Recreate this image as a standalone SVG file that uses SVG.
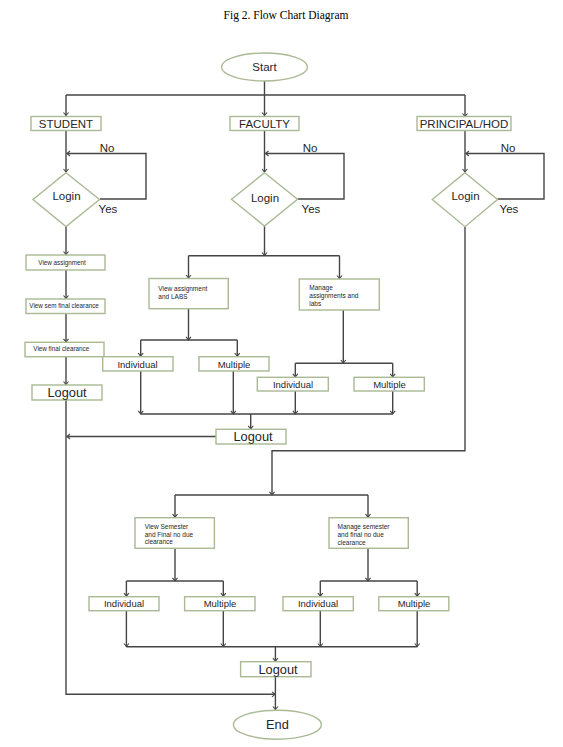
<svg xmlns="http://www.w3.org/2000/svg" width="563" height="747" viewBox="0 0 563 747">
<style>
.bx{fill:#fff;stroke:#a9ba94;stroke-width:1.4}
.ln{fill:none;stroke:#454545;stroke-width:1.4}
.ar{marker-end:url(#ah)}
.t{font-family:"Liberation Sans",Arial,sans-serif;fill:#262626}
.lg{font-size:11.5px}
.big{font-size:12.8px}
.md{font-size:9.5px}
.sm{font-size:6.3px}
.s7{font-size:6.5px}
.title{font-family:"Liberation Serif","Times New Roman",serif;font-size:11.5px;fill:#000}
</style>
<defs>
<marker id="ah" markerWidth="8" markerHeight="8" refX="4" refY="4" orient="auto" markerUnits="userSpaceOnUse">
<polyline points="1,1.5 4,4 1,6.5" fill="none" stroke="#454545" stroke-width="1.1"/>
</marker>
</defs>
<rect width="563" height="747" fill="#fff"/>
<text class="title" x="286" y="19" text-anchor="middle">Fig 2. Flow Chart Diagram</text>

<g id="connectors">
<path class="ln" d="M264.5,81 V95 M66,95 H465"/>
<path class="ln ar" d="M66,95 V115.5"/>
<path class="ln ar" d="M264.5,95 V115.5"/>
<path class="ln ar" d="M465,95 V116.5"/>
<path class="ln ar" d="M66,130.5 V172"/>
<path class="ln ar" d="M264.5,130.5 V172"/>
<path class="ln ar" d="M465,130.5 V172"/>
<path class="ln ar" d="M100,199 H146 V153.5 H67"/>
<path class="ln ar" d="M297.5,199 H344 V153.5 H265.5"/>
<path class="ln ar" d="M497.5,199 H544 V153.5 H466"/>
<path class="ln ar" d="M66,226.5 V254.5"/>
<path class="ln ar" d="M66,270 V298.5"/>
<path class="ln ar" d="M66,313.5 V341.8"/>
<path class="ln ar" d="M66,356.7 V384.5"/>
<path class="ln ar" d="M66,400 V694.3 H275"/>
<path class="ln ar" d="M264.5,226 V255.5"/>
<path class="ln" d="M188.5,255.7 H339.5"/>
<path class="ln ar" d="M188.5,255.7 V278"/>
<path class="ln ar" d="M339.5,255.7 V278.5"/>
<path class="ln ar" d="M188.5,308.7 V339.8"/>
<path class="ln" d="M140.7,340 H237.3"/>
<path class="ln ar" d="M140.7,340 V356.2"/>
<path class="ln ar" d="M237.3,340 V356.2"/>
<path class="ln ar" d="M343.3,310 V363"/>
<path class="ln" d="M295.3,363.3 H392.7"/>
<path class="ln ar" d="M295.3,363.3 V376.8"/>
<path class="ln ar" d="M392.7,363.3 V376.8"/>
<path class="ln ar" d="M140.7,371 V413.8"/>
<path class="ln ar" d="M233.3,371 V413.8"/>
<path class="ln ar" d="M295.3,391 V413.8"/>
<path class="ln ar" d="M392.7,391 V413.8"/>
<path class="ln" d="M140.7,414 H392.7"/>
<path class="ln ar" d="M250.7,414 V428.8"/>
<path class="ln ar" d="M216,436.5 H67"/>
<path class="ln ar" d="M465,226.7 V450.7 H272 V494.8"/>
<path class="ln" d="M175,495 H368"/>
<path class="ln ar" d="M175,495 V517.2"/>
<path class="ln ar" d="M368,495 V517.2"/>
<path class="ln ar" d="M175,548.3 V580.8"/>
<path class="ln ar" d="M368,548.3 V580.8"/>
<path class="ln" d="M126.4,581 H223.3 M320.3,581 H417.2"/>
<path class="ln ar" d="M126.4,581 V596.2"/>
<path class="ln ar" d="M223.3,581 V596.2"/>
<path class="ln ar" d="M320.3,581 V596.2"/>
<path class="ln ar" d="M417.2,581 V596.2"/>
<path class="ln ar" d="M126.4,610.7 V646.5"/>
<path class="ln ar" d="M223.3,610.7 V646.5"/>
<path class="ln ar" d="M320.3,610.7 V646.5"/>
<path class="ln ar" d="M417.2,610.7 V646.5"/>
<path class="ln" d="M126.4,646.7 H417.2"/>
<path class="ln ar" d="M275.4,646.7 V661.2"/>
<path class="ln ar" d="M275.4,676.7 V709.5"/>
</g>

<g id="start">
<ellipse class="bx" cx="264.5" cy="67" rx="43" ry="14"/>
<text class="t lg" x="264.5" y="71" text-anchor="middle">Start</text>
</g>
<g id="student">
<rect class="bx" x="31" y="116.5" width="70" height="14"/>
<text class="t lg" x="66" y="127.5" text-anchor="middle">STUDENT</text>
</g>
<g id="faculty">
<rect class="bx" x="230" y="116.5" width="69" height="14"/>
<text class="t lg" x="264.5" y="127.5" text-anchor="middle">FACULTY</text>
</g>
<g id="principal">
<rect class="bx" x="417" y="116.5" width="94" height="14"/>
<text class="t lg" x="464" y="127.5" text-anchor="middle">PRINCIPAL/HOD</text>
</g>

<g id="login-student">
<polygon class="bx" points="66,172.7 99.5,199.5 66,226.5 33,199.5"/>
<text class="t lg" x="66.5" y="199.5" text-anchor="middle">Login</text>
<text class="t lg" x="107" y="151.5" text-anchor="middle">No</text>
<text class="t lg" x="108" y="213" text-anchor="middle">Yes</text>
</g>
<g id="login-faculty">
<polygon class="bx" points="264.5,172.7 297.5,199.3 264.5,226 231.5,199.3"/>
<text class="t lg" x="265" y="202" text-anchor="middle">Login</text>
<text class="t lg" x="310" y="152" text-anchor="middle">No</text>
<text class="t lg" x="311" y="213" text-anchor="middle">Yes</text>
</g>
<g id="login-principal">
<polygon class="bx" points="465,172.7 497.5,199.5 465,226.7 432.3,199.5"/>
<text class="t lg" x="465.5" y="200" text-anchor="middle">Login</text>
<text class="t lg" x="508" y="152" text-anchor="middle">No</text>
<text class="t lg" x="509" y="213" text-anchor="middle">Yes</text>
</g>

<g id="view-assignment">
<rect class="bx" x="26" y="255" width="79" height="15"/>
<text class="t sm" x="38.3" y="265.3">View assignment</text>
</g>
<g id="view-sem-final">
<rect class="bx" x="26" y="299" width="79" height="14.5"/>
<text class="t sm" x="29.3" y="308.3">View sem final clearance</text>
</g>
<g id="view-final">
<rect class="bx" x="25" y="342.3" width="79" height="14.4"/>
<text class="t sm" x="33.3" y="351">View final clearance</text>
</g>
<g id="logout-student">
<rect class="bx" x="32" y="385" width="70" height="15"/>
<text class="t big" x="67" y="397" text-anchor="middle">Logout</text>
</g>

<g id="view-assignment-labs">
<rect class="bx" x="149" y="278.5" width="79.3" height="30.2"/>
<text class="t s7" x="158.3" y="291">View assignment</text>
<text class="t s7" x="158.3" y="298.8">and LABS</text>
</g>
<g id="manage-assignments">
<rect class="bx" x="299.3" y="279" width="80" height="31"/>
<text class="t s7" x="309.3" y="290">Manage</text>
<text class="t s7" x="309.3" y="297.8">assignments and</text>
<text class="t s7" x="309.3" y="305.6">labs</text>
</g>
<g id="individual-1">
<rect class="bx" x="102.7" y="356.7" width="70.3" height="14.3"/>
<text class="t md" x="137.5" y="367.5" text-anchor="middle">Individual</text>
</g>
<g id="multiple-1">
<rect class="bx" x="199" y="356.7" width="70" height="14.3"/>
<text class="t md" x="234" y="367.5" text-anchor="middle">Multiple</text>
</g>
<g id="individual-2">
<rect class="bx" x="257.3" y="377.3" width="71" height="13.7"/>
<text class="t md" x="293" y="387.8" text-anchor="middle">Individual</text>
</g>
<g id="multiple-2">
<rect class="bx" x="354" y="377.3" width="70.3" height="13.7"/>
<text class="t md" x="389.5" y="387.8" text-anchor="middle">Multiple</text>
</g>
<g id="logout-faculty">
<rect class="bx" x="216" y="429.3" width="70" height="14.7"/>
<text class="t big" x="253" y="441.3" text-anchor="middle">Logout</text>
</g>

<g id="view-semester">
<rect class="bx" x="135" y="517.7" width="79.4" height="30.6"/>
<text class="t s7" x="144.7" y="528.8">View Semester</text>
<text class="t s7" x="144.7" y="536.6">and Final no due</text>
<text class="t s7" x="144.7" y="544.4">clearance</text>
</g>
<g id="manage-semester">
<rect class="bx" x="329" y="517.7" width="79.3" height="30.6"/>
<text class="t s7" x="337.5" y="529.4">Manage semester</text>
<text class="t s7" x="337.5" y="537.2">and final no due</text>
<text class="t s7" x="337.5" y="545">clearance</text>
</g>
<g id="individual-3">
<rect class="bx" x="89" y="596.7" width="70" height="14"/>
<text class="t md" x="124" y="607.3" text-anchor="middle">Individual</text>
</g>
<g id="multiple-3">
<rect class="bx" x="184.6" y="596.7" width="70.4" height="14"/>
<text class="t md" x="220" y="607.3" text-anchor="middle">Multiple</text>
</g>
<g id="individual-4">
<rect class="bx" x="283" y="596.7" width="70.3" height="14"/>
<text class="t md" x="318" y="607.3" text-anchor="middle">Individual</text>
</g>
<g id="multiple-4">
<rect class="bx" x="378.8" y="596.7" width="70" height="14"/>
<text class="t md" x="414" y="607.3" text-anchor="middle">Multiple</text>
</g>
<g id="logout-principal">
<rect class="bx" x="240.6" y="661.7" width="70.4" height="15"/>
<text class="t big" x="278" y="673.5" text-anchor="middle">Logout</text>
</g>
<g id="end">
<ellipse class="bx" cx="277.4" cy="724.7" rx="44" ry="14.5"/>
<text class="t big" x="277.4" y="728.5" text-anchor="middle">End</text>
</g>
</svg>
